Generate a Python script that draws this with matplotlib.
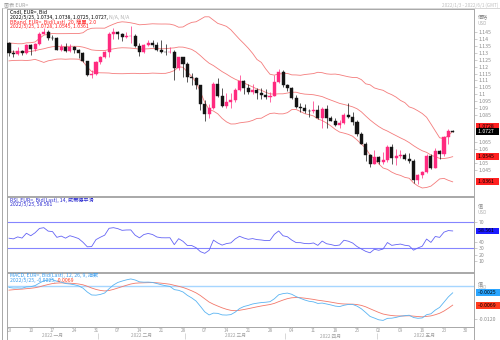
#!/usr/bin/env python3
# -*- coding: utf-8 -*-
"""
EUR= 日足 (Bid) 2022/1/3 - 2022/5/25
上段: ローソク足 + BBand(20, 2.0)
中段: RSI(14, Wilder)
下段: MACD(12, 26, 9)
"""

import matplotlib
matplotlib.use("Agg")
import matplotlib.pyplot as plt
import pandas as pd

plt.rcParams["font.family"] = ["Noto Sans CJK TC", "DejaVu Sans"]

# ---- daily candles, one block per month (Jan / Feb / Mar / Apr / May) ----
opens = [
    1.1370, 1.1299, 1.1289, 1.1313, 1.1297, 1.1359, 1.1326, 1.1368, 1.1440, 1.1454,
    1.1412, 1.1406, 1.1325, 1.1343, 1.1311, 1.1344, 1.1325, 1.1302, 1.1241, 1.1143, 1.1146,
    1.1235, 1.1271, 1.1304, 1.1440, 1.1455, 1.1441, 1.1416, 1.1423, 1.1424, 1.1349,
    1.1305, 1.1357, 1.1375, 1.1359, 1.1321, 1.1309, 1.1308, 1.1309, 1.1192, 1.1270,
    1.1219, 1.1122, 1.1121, 1.1064, 1.0931, 1.0857, 1.0899, 1.1074, 1.0985, 1.0912, 1.0942, 1.0955,
    1.1034, 1.1093, 1.1049, 1.1016, 1.1030, 1.1006, 1.0997, 1.0983, 1.0986, 1.1089, 1.1160,
    1.1067, 1.1046, 1.0970, 1.0904, 1.0902, 1.0880, 1.0876, 1.0886, 1.0829, 1.0890, 1.0828,
    1.0808, 1.0780, 1.0788, 1.0853, 1.0834, 1.0796, 1.0712, 1.0640, 1.0556, 1.0497,
    1.0545, 1.0508, 1.0525, 1.0620, 1.0540, 1.0552, 1.0560, 1.0529, 1.0514, 1.0380,
    1.0411, 1.0436, 1.0552, 1.0465, 1.0586, 1.0563, 1.0690, 1.0734,
]
highs = [
    1.1376, 1.1322, 1.1346, 1.1320, 1.1364, 1.1364, 1.1375, 1.1452, 1.1482, 1.1465,
    1.1428, 1.1413, 1.1368, 1.1370, 1.1363, 1.1348, 1.1330, 1.1310, 1.1245, 1.1174, 1.1241,
    1.1280, 1.1315, 1.1451, 1.1483, 1.1458, 1.1446, 1.1449, 1.1495, 1.1440, 1.1372,
    1.1365, 1.1396, 1.1394, 1.1383, 1.1395, 1.1363, 1.1345, 1.1319, 1.1273, 1.1274,
    1.1234, 1.1154, 1.1124, 1.1069, 1.0959, 1.0929, 1.1090, 1.1121, 1.1044, 1.1006, 1.1012, 1.1042,
    1.1137, 1.1105, 1.1071, 1.1071, 1.1044, 1.1047, 1.1037, 1.1015, 1.1137, 1.1185, 1.1176,
    1.1077, 1.1055, 1.0996, 1.0936, 1.0926, 1.0891, 1.0954, 1.0922, 1.0904, 1.0924, 1.0845,
    1.0828, 1.0813, 1.0864, 1.0937, 1.0872, 1.0813, 1.0723, 1.0656, 1.0567, 1.0594,
    1.0550, 1.0578, 1.0629, 1.0641, 1.0600, 1.0593, 1.0574, 1.0577, 1.0529, 1.0419,
    1.0441, 1.0563, 1.0564, 1.0607, 1.0597, 1.0697, 1.0748, 1.0738,
]
lows = [
    1.1280, 1.1272, 1.1284, 1.1285, 1.1291, 1.1285, 1.1314, 1.1360, 1.1435, 1.1396,
    1.1394, 1.1322, 1.1314, 1.1310, 1.1307, 1.1299, 1.1263, 1.1235, 1.1136, 1.1121, 1.1139,
    1.1218, 1.1264, 1.1268, 1.1399, 1.1404, 1.1390, 1.1407, 1.1374, 1.1344, 1.1280,
    1.1300, 1.1349, 1.1343, 1.1317, 1.1303, 1.1288, 1.1297, 1.1106, 1.1174, 1.1125,
    1.1089, 1.1069, 1.1037, 1.0889, 1.0806, 1.0827, 1.0893, 1.0978, 1.0905, 1.0903, 1.0902, 1.0942,
    1.1023, 1.1004, 1.1000, 1.0999, 1.0962, 1.0964, 1.0963, 1.0945, 1.0986, 1.1082, 1.1056,
    1.1027, 1.0969, 1.0900, 1.0870, 1.0866, 1.0837, 1.0865, 1.0822, 1.0758, 1.0757, 1.0806,
    1.0769, 1.0758, 1.0782, 1.0825, 1.0778, 1.0696, 1.0636, 1.0515, 1.0470, 1.0490,
    1.0490, 1.0492, 1.0505, 1.0493, 1.0483, 1.0535, 1.0521, 1.0502, 1.0354, 1.0350,
    1.0389, 1.0429, 1.0459, 1.0462, 1.0529, 1.0555, 1.0642, 1.0725,
]
closes = [
    1.1299, 1.1289, 1.1313, 1.1297, 1.1359, 1.1326, 1.1368, 1.1440, 1.1454, 1.1412,
    1.1406, 1.1325, 1.1343, 1.1311, 1.1344, 1.1325, 1.1302, 1.1241, 1.1143, 1.1146, 1.1235,
    1.1271, 1.1304, 1.1440, 1.1455, 1.1441, 1.1416, 1.1423, 1.1424, 1.1349, 1.1305,
    1.1357, 1.1375, 1.1359, 1.1321, 1.1309, 1.1308, 1.1309, 1.1192, 1.1270, 1.1219,
    1.1122, 1.1121, 1.1064, 1.0931, 1.0857, 1.0899, 1.1074, 1.0985, 1.0912, 1.0942, 1.0955, 1.1034,
    1.1093, 1.1049, 1.1016, 1.1030, 1.1006, 1.0997, 1.0983, 1.0986, 1.1089, 1.1160, 1.1067,
    1.1046, 1.0970, 1.0904, 1.0902, 1.0880, 1.0876, 1.0886, 1.0829, 1.0890, 1.0828, 1.0808,
    1.0780, 1.0788, 1.0853, 1.0834, 1.0796, 1.0712, 1.0640, 1.0556, 1.0497, 1.0545,
    1.0508, 1.0525, 1.0620, 1.0540, 1.0552, 1.0560, 1.0529, 1.0514, 1.0380, 1.0411,
    1.0436, 1.0552, 1.0465, 1.0586, 1.0563, 1.0690, 1.0735, 1.0727,
]

# 2021/11 - 2021/12 closes, only used to warm up the indicators
prior_close = [
    1.1607, 1.1580, 1.1613, 1.1553, 1.1567, 1.1587, 1.1592, 1.1479, 1.1445, 1.1444,
    1.1368, 1.1320, 1.1319, 1.1370, 1.1289, 1.1236, 1.1234, 1.1198, 1.1211, 1.1317,
    1.1292, 1.1338, 1.1320, 1.1303, 1.1316, 1.1285, 1.1266, 1.1343, 1.1290, 1.1316,
    1.1284, 1.1258, 1.1288, 1.1331, 1.1240, 1.1282, 1.1279, 1.1328, 1.1330, 1.1321,
    1.1328, 1.1311, 1.1348, 1.1326, 1.1370,
]

month_names = ["2022 一月", "2022 二月", "2022 三月", "2022 四月", "2022 五月"]
price_ticks = [1.04, 1.045, 1.05, 1.055, 1.06, 1.065, 1.07, 1.075, 1.08, 1.085, 1.09,
               1.095, 1.1, 1.105, 1.11, 1.115, 1.12, 1.125, 1.13, 1.135, 1.14, 1.145]
rsi_ticks = [10, 20, 30, 40, 50, 60, 70]
macd_ticks = [-0.004, -0.008, -0.012]

BULL = "#ff2a7f"
BEAR = "#141414"
BB_COLOR = "#f47c7c"
RSI_COLOR = "#6464f5"
RSI_LEVEL = "#8585ff"
MACD_COLOR = "#5ab4f2"
SIGNAL_COLOR = "#f2786a"
ZERO_COLOR = "#a6d6ff"
FRAME = "#a8a8a8"
LABEL = "#8c8c8c"
FS = 3.7

# ---- indicators ----
n_prior = len(prior_close)
close_all = pd.Series(prior_close + closes)

bb_mid = close_all.rolling(20).mean()
bb_sd = close_all.rolling(20).std(ddof=0)
bb_up = (bb_mid + 2.0 * bb_sd).iloc[n_prior:].to_numpy()
bb_dn = (bb_mid - 2.0 * bb_sd).iloc[n_prior:].to_numpy()
bb_mid = bb_mid.iloc[n_prior:].to_numpy()

delta = close_all.diff()
gain = delta.clip(lower=0).ewm(alpha=1 / 14, adjust=False).mean()
loss = (-delta.clip(upper=0)).ewm(alpha=1 / 14, adjust=False).mean()
rsi = (100 - 100 / (1 + gain / loss)).iloc[n_prior:].to_numpy()

ema12 = close_all.ewm(span=12, adjust=False).mean()
ema26 = close_all.ewm(span=26, adjust=False).mean()
macd_all = ema12 - ema26
signal = macd_all.ewm(span=9, adjust=False).mean().iloc[n_prior:].to_numpy()
macd = macd_all.iloc[n_prior:].to_numpy()

# trading days incl. the empty space up to 6/1
days = pd.bdate_range("2022-01-03", "2022-06-01")
idx = list(range(len(closes)))
XLIM = (-0.46, 106.9)

# ---- layout in pixels ----
W, H = 500, 340
fig = plt.figure(figsize=(W / 100, H / 100), dpi=100)
fig.patch.set_facecolor("white")


def panel(top, bottom):
    ax = fig.add_axes([7 / W, 1 - bottom / H, 467 / W, (bottom - top) / H])
    ax.set_xlim(*XLIM)
    ax.set_xticks([])
    for sp in ax.spines.values():
        sp.set_color(FRAME)
        sp.set_linewidth(0.7)
    ax.yaxis.tick_right()
    ax.tick_params(axis="y", direction="out", length=2, width=0.4, color=FRAME,
                   labelcolor=LABEL, labelsize=FS, pad=1.5)
    return ax


def free_ticks(ax, ticks, taken, gap_px=5.5):
    """drop tick labels that would sit under a value box"""
    lo, hi = ax.get_ylim()
    px = ax.get_position().height * H / (hi - lo)
    return [t for t in ticks if all(abs(t - v) * px > gap_px for v in taken)]


def value_box(ax, y, text, fc, tc="black", dy=0):
    ax.annotate(text, xy=(1, y), xycoords=("axes fraction", "data"),
                xytext=(2.2, dy), textcoords="offset points", ha="left", va="center",
                fontsize=FS, color=tc, zorder=20, annotation_clip=False,
                bbox=dict(boxstyle="square,pad=0.18", fc=fc, ec="none"))


def header(ax, y1, y2, top_text):
    ax.text(1.008, y1, top_text, transform=ax.transAxes, fontsize=FS, color=LABEL,
            ha="left", va="center", clip_on=False)
    ax.text(1.008, y2, "USD", transform=ax.transAxes, fontsize=FS - 0.4, color="#b0b0b0",
            ha="left", va="center", clip_on=False)


ax_main = panel(9, 196)
ax_rsi = panel(197, 271.5)
ax_macd = panel(272.5, 326.5)
ax_date = panel(326.5, 340)

# ---- candles + Bollinger bands ----
ax_main.set_ylim(1.02612, 1.16192)
ax_main.plot(idx, bb_up, color=BB_COLOR, lw=0.6, zorder=2)
ax_main.plot(idx, bb_mid, color=BB_COLOR, lw=0.6, zorder=2)
ax_main.plot(idx, bb_dn, color=BB_COLOR, lw=0.6, zorder=2)

colors = [BULL if c >= o else BEAR for o, c in zip(opens, closes)]
ax_main.vlines(idx, lows, highs, colors=colors, lw=0.5, zorder=3)
ax_main.bar(idx, [abs(c - o) for o, c in zip(opens, closes)],
            bottom=[min(o, c) for o, c in zip(opens, closes)],
            width=0.7, color=colors, edgecolor=colors, linewidth=0.3, zorder=4)

# the upper-band box is pushed up 5 px so it clears the last-price box
up_shift = 5 * (1.16192 - 1.02612) / 187
ticks = free_ticks(ax_main, price_ticks,
                   [bb_up[-1] + up_shift, closes[-1], bb_mid[-1], bb_dn[-1]])
ax_main.set_yticks(ticks)
ax_main.set_yticklabels([f"{t:g}" for t in ticks])
header(ax_main, 0.959, 0.923, "價格")

value_box(ax_main, bb_up[-1], " 1.0728    ", "#ff2020", dy=3.6)
value_box(ax_main, closes[-1], " 1.0727    ", "black", tc="white")
value_box(ax_main, bb_mid[-1], " 1.0545    ", "#ff2020")
value_box(ax_main, bb_dn[-1], " 1.0361    ", "#ff2020")

lx = 3 / 467
ax_main.text(lx, 0.980, "Cndl, EUR=, Bid", transform=ax_main.transAxes,
             fontsize=FS, color="black", va="center")
t = ax_main.text(lx, 0.956, "2022/5/25, 1.0734, 1.0738, 1.0725, 1.0727, ",
                 transform=ax_main.transAxes, fontsize=FS, color="black", va="center")
ax_main.annotate("N/A, N/A", xy=(1, 0.5), xycoords=t, va="center",
                 fontsize=FS, color="#b0b0b0")
ax_main.text(lx, 0.932, "BBand, EUR=, Bid(Last), 20, 簡單, 2.0", transform=ax_main.transAxes,
             fontsize=FS, color="#ff2020", va="center")
ax_main.text(lx, 0.905, "2022/5/25, 1.0728, 1.0545, 1.0361", transform=ax_main.transAxes,
             fontsize=FS, color="#ff2020", va="center")

# ---- RSI ----
ax_rsi.set_ylim(-5.3, 108.0)
ax_rsi.axhline(70, color=RSI_LEVEL, lw=0.8, zorder=1)
ax_rsi.axhline(30, color=RSI_LEVEL, lw=0.8, zorder=1)
ax_rsi.plot(idx, rsi, color=RSI_COLOR, lw=0.6, zorder=2)
ax_rsi.set_yticks(free_ticks(ax_rsi, rsi_ticks, [rsi[-1]]))
header(ax_rsi, 0.887, 0.793, "值")
value_box(ax_rsi, rsi[-1], " 58.561    ", "#1a1aff")
ax_rsi.text(lx, 0.953, "RSI, EUR=, Bid(Last), 14, 威爾德平滑", transform=ax_rsi.transAxes,
            fontsize=FS, color="#2a2ad0", va="center")
ax_rsi.text(lx, 0.896, "2022/5/25, 58.561", transform=ax_rsi.transAxes,
            fontsize=FS, color="#2a2ad0", va="center")

# ---- MACD ----
ax_macd.set_ylim(-0.01457, 0.00471)
ax_macd.axhline(0, color=ZERO_COLOR, lw=1.0, zorder=1)
ax_macd.plot(idx, signal, color=SIGNAL_COLOR, lw=0.6, zorder=2)
ax_macd.plot(idx, macd, color=MACD_COLOR, lw=0.6, zorder=3)
ticks = free_ticks(ax_macd, macd_ticks, [macd[-1], signal[-1]])
ax_macd.set_yticks(ticks)
ax_macd.set_yticklabels([f"{t:.4f}" for t in ticks])
header(ax_macd, 0.80, 0.72, "值")
value_box(ax_macd, macd[-1], " -0.0025   ", "#2aa5ff")
value_box(ax_macd, signal[-1], " -0.0069   ", "#ff3c1e")
ax_macd.text(lx, 0.945, "MACD, EUR=, Bid(Last), 12, 26, 9, 指數", transform=ax_macd.transAxes,
             fontsize=FS, color="#3a9ef0", va="center")
t = ax_macd.text(lx, 0.853, "2022/5/25, -0.0025, ", transform=ax_macd.transAxes,
                 fontsize=FS, color="#3a9ef0", va="center")
ax_macd.annotate("-0.0069", xy=(1, 0.5), xycoords=t, va="center",
                 fontsize=FS, color="#ff3c1e")

# ---- date axis ----
ax_date.set_ylim(0, 1)
ax_date.set_yticks([])
ax_date.spines["bottom"].set_visible(False)
for i, d in enumerate(days):
    if d.dayofweek == 0:
        ax_date.text(i, 0.74, d.strftime("%d"), fontsize=FS - 0.3, color="#a0a0a0",
                     ha="center", va="center")
month_pos = pd.Series(range(len(days)), index=days).groupby(days.month)
for name, (_, pos) in zip(month_names, month_pos):
    ax_date.text((pos.iloc[0] + pos.iloc[-1]) / 2, 0.30, name, fontsize=FS - 0.3,
                 color="#a0a0a0", ha="center", va="center")
    if pos.iloc[0] > 0:
        ax_date.vlines(pos.iloc[0] - 0.5, 0.05, 0.55, color="#c8c8c8", lw=0.5)

# ---- window title strip ----
fig.text(4 / W, 1 - 5 / H, "圖表 EUR=", fontsize=FS, color="#a0a0a0", va="center")
fig.text(498 / W, 1 - 5 / H, "2022/1/3 - 2022/6/1 (GMT)", fontsize=FS - 0.3,
         color="#c0c0c0", va="center", ha="right")
fig.add_artist(plt.Line2D([2 / W, 2 / W], [0, 1 - 8 / H], color=FRAME, lw=0.7))
fig.add_artist(plt.Line2D([2 / W, 1], [1 - 8 / H, 1 - 8 / H], color="#c8c8c8", lw=0.5))

fig.savefig("out.png", dpi=100, facecolor="white")
